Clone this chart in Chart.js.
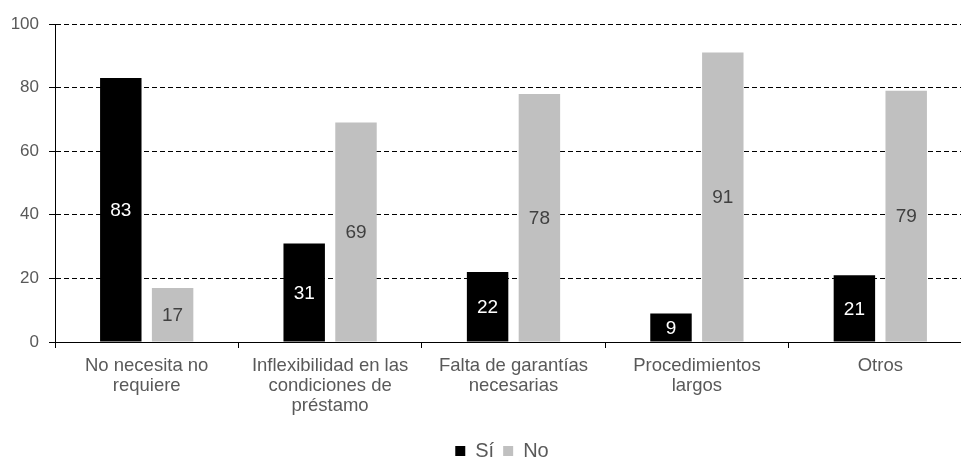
<!DOCTYPE html>
<html>
<head>
<meta charset="utf-8">
<script src="https://cdn.jsdelivr.net/npm/chart.js@4/dist/chart.umd.min.js"></script>
<style>
html,body{margin:0;padding:0;background:#fff;overflow:hidden;width:961px;height:461px;}
canvas{display:block;}
</style>
</head>
<body>
<canvas id="c" width="972" height="461"></canvas>
<script>
const categories = [
  ["No necesita no", "requiere"],
  ["Inflexibilidad en las", "condiciones de", "préstamo"],
  ["Falta de garantías", "necesarias"],
  ["Procedimientos", "largos"],
  ["Otros"]
];
const siValues = [83, 31, 22, 9, 21];
const noValues = [17, 69, 78, 91, 79];
const seriesNames = ["Sí", "No"];
const yTicks = [0, 20, 40, 60, 80, 100];

const FONT = "'Liberation Sans', Arial, sans-serif";

const valueLabels = {
  id: 'valueLabels',
  afterDatasetsDraw(chart) {
    const ctx = chart.ctx;
    ctx.save();
    ctx.font = "19px " + FONT;
    ctx.textAlign = 'center';
    ctx.textBaseline = 'middle';
    chart.data.datasets.forEach((ds, di) => {
      const meta = chart.getDatasetMeta(di);
      meta.data.forEach((bar, i) => {
        const v = ds.data[i];
        ctx.fillStyle = di === 0 ? '#ffffff' : '#404040';
        ctx.fillText(String(v), bar.x, (bar.y + bar.base) / 2 + 1);
      });
    });
    ctx.restore();
  }
};

const legendShift = {
  id: 'legendShift',
  afterLayout(chart) {
    if (chart.legend) {
      chart.legend.left += 16;
      chart.legend.right += 16;
    }
  }
};

new Chart(document.getElementById('c'), {
  type: 'bar',
  data: {
    labels: categories,
    datasets: [
      { label: seriesNames[0], data: siValues, backgroundColor: '#000000', borderWidth: 0 },
      { label: seriesNames[1], data: noValues, backgroundColor: '#c0c0c0', borderWidth: 0 }
    ]
  },
  options: {
    responsive: false,
    animation: false,
    events: [],
    layout: { padding: { top: 24, right: 0, left: 0, bottom: -10 } },
    datasets: { bar: { categoryPercentage: 0.565, barPercentage: 0.8 } },
    plugins: {
      legend: {
        position: 'bottom',
        labels: {
          font: { family: FONT, size: 20 },
          color: '#595959',
          boxWidth: 10,
          boxHeight: 10,
          padding: 9
        }
      },
      tooltip: { enabled: false }
    },
    scales: {
      x: {
        offset: true,
        grid: {
          offset: true,
          drawOnChartArea: false,
          drawTicks: true,
          tickLength: 6,
          tickColor: '#000000',
          color: '#000000'
        },
        border: { display: true, color: '#000000', width: 1 },
        ticks: {
          font: { family: FONT, size: 18.5, lineHeight: 1.08 },
          color: '#595959',
          padding: 8,
          maxRotation: 0,
          autoSkip: false
        },
        afterFit(scale) { scale.height = 90; }
      },
      y: {
        min: 0,
        max: 100,
        afterBuildTicks(scale) { scale.ticks = yTicks.map(v => ({ value: v })); },
        grid: {
          color: '#000000',
          lineWidth: 1,
          drawTicks: true,
          tickLength: 6,
          tickBorderDash: [],
          tickColor: '#000000'
        },
        border: { display: true, color: '#000000', width: 1, dash: [5, 3] },
        ticks: {
          font: { family: FONT, size: 17 },
          color: '#595959',
          padding: 10
        },
        afterFit(scale) { scale.width = 55; }
      }
    }
  },
  plugins: [valueLabels, legendShift]
});
</script>
</body>
</html>
